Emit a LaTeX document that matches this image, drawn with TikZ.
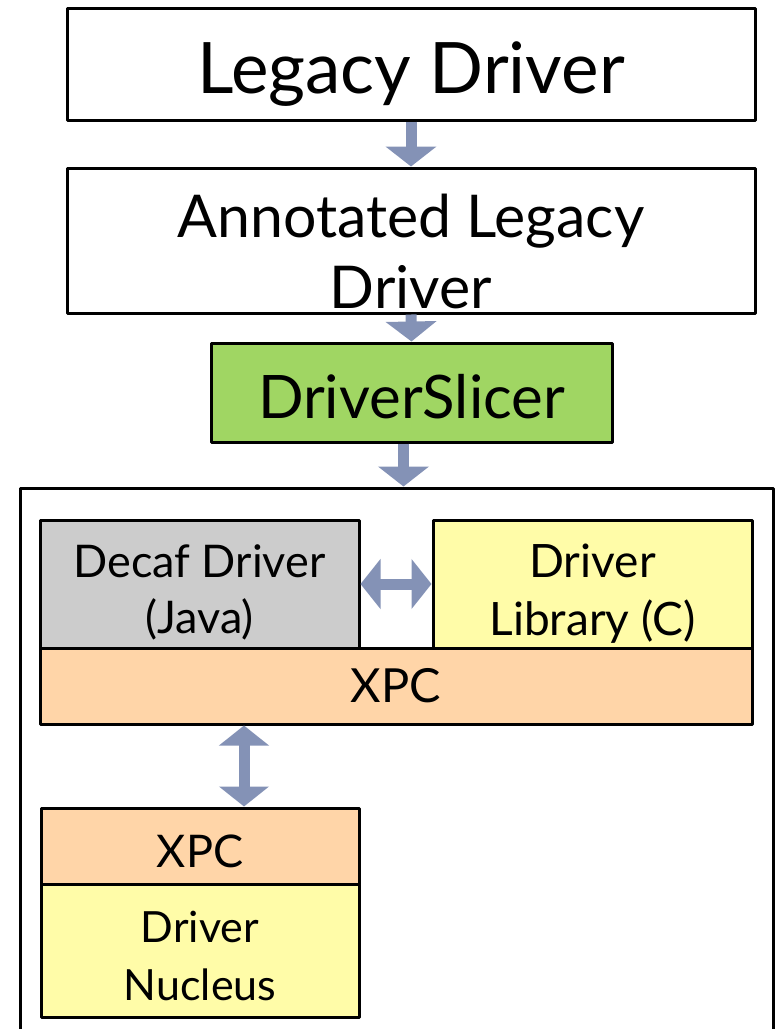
\documentclass[tikz,border=0pt]{standalone}
\usepackage{fontspec}
\setmainfont{Lato}
\usetikzlibrary{arrows.meta}

\definecolor{flowarrow}{RGB}{132,146,182}
\definecolor{slicergreen}{RGB}{160,214,99}
\definecolor{decafgray}{RGB}{204,204,204}
\definecolor{libyellow}{RGB}{255,252,168}
\definecolor{xpcpeach}{RGB}{255,213,168}

\begin{document}
\begin{tikzpicture}[x=1pt, y=-1pt,
  box/.style={draw=black, line width=3pt, line join=round, inner sep=0pt, align=center},
  flow/.style={draw=flowarrow, line width=11pt,
    -{Triangle[width=50pt,length=20pt]}},
  bothways/.style={draw=flowarrow, line width=11pt,
    {Triangle[width=49pt,length=20pt]}-{Triangle[width=49pt,length=20pt]}},
]
\useasboundingbox (0,0) rectangle (781,1029);

% pipeline stages (text height/depth place the last baseline)
\node[box, fill=white, minimum width=688pt, minimum height=112pt,
      font=\fontsize{71pt}{78pt}\selectfont, text height=58pt, text depth=0pt]
  (legacy) at (411,64) {Legacy Driver};
\node[box, fill=white, minimum width=688pt, minimum height=145pt,
      font=\fontsize{59pt}{71pt}\selectfont, text height=135pt, text depth=0pt]
  (annot) at (411,240.5) {Annotated Legacy\\Driver};
\node[box, fill=slicergreen, minimum width=401pt, minimum height=99pt,
      font=\fontsize{60pt}{66pt}\selectfont, text height=51pt, text depth=0pt]
  (slicer) at (411.5,392.5) {DriverSlicer};

% resulting split driver
\node[box, minimum width=753pt, minimum height=570pt] (host) at (396.5,773) {};
\node[box, fill=decafgray, minimum width=319pt, minimum height=128pt,
      font=\fontsize{45pt}{56pt}\selectfont, text height=98pt, text depth=0pt]
  (decaf) at (199.5,584) {Decaf Driver\\(Java)};
\node[box, fill=libyellow, minimum width=319pt, minimum height=128pt,
      font=\fontsize{46pt}{58pt}\selectfont, text height=102pt, text depth=0pt]
  (lib) at (592.5,584) {Driver\\Library (C)};
\node[box, fill=xpcpeach, minimum width=712pt, minimum height=76pt,
      font=\fontsize{47pt}{52pt}\selectfont, text height=32pt, text depth=0pt]
  (xpc) at (396,686) {XPC};
\node[box, fill=xpcpeach, minimum width=318pt, minimum height=76pt,
      font=\fontsize{45pt}{52pt}\selectfont, text height=42pt, text depth=0pt]
  (xpc2) at (200,846) {XPC};
\node[box, fill=libyellow, minimum width=318pt, minimum height=133pt,
      font=\fontsize{43pt}{58pt}\selectfont, text height=99pt, text depth=0pt]
  (nucleus) at (200,950.5) {Driver\\Nucleus};

% connectors
\draw[flow] (legacy.south) -- (annot.north);
\draw[flow] (annot.south) -- (slicer.north);
\coordinate (sliceout) at ([xshift=-8pt]slicer.south);
\draw[flow] (sliceout) -- (sliceout |- host.north);
\draw[bothways] (decaf.east) -- (lib.west);
\coordinate (xpclink) at ([xshift=44pt]xpc2.north);
\draw[bothways] (xpc.south -| xpclink) -- (xpclink);
\end{tikzpicture}
\end{document}
